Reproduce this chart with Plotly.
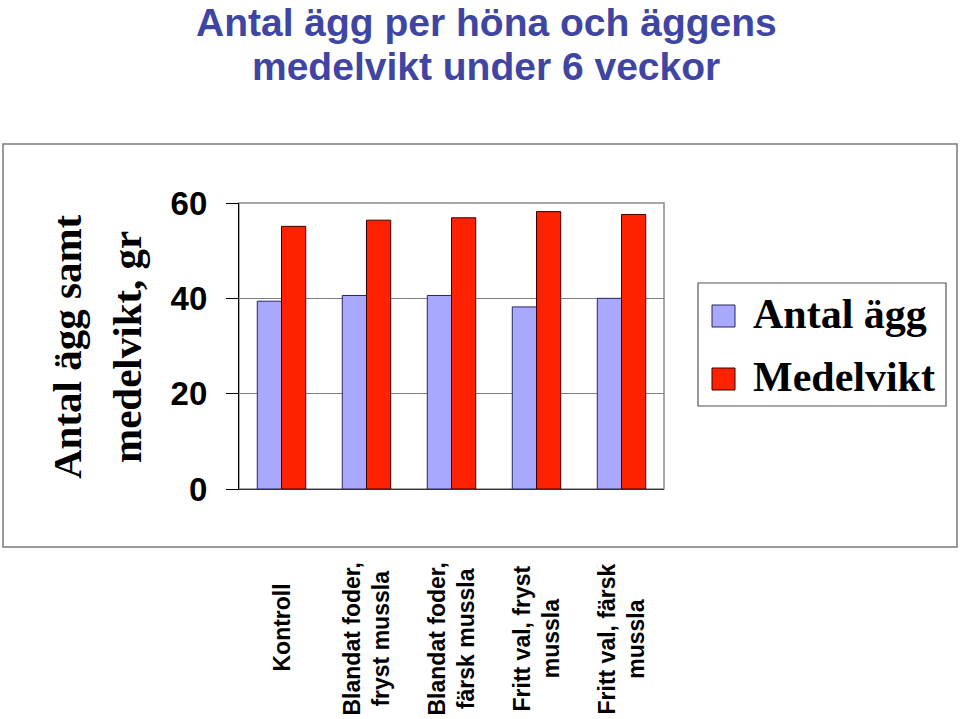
import plotly.graph_objects as go

categories = ["Kontroll", "Blandat foder,<br>fryst mussla", "Blandat foder,<br>färsk mussla",
              "Fritt val, fryst<br>mussla", "Fritt val, färsk<br>mussla"]
antal_agg = [39.4, 40.6, 40.6, 38.2, 40.0]
medelvikt = [55.1, 56.4, 56.9, 58.2, 57.6]
series_names = ["Antal ägg", "Medelvikt"]
title_lines = ["Antal ägg per höna och äggens", "medelvikt under 6 veckor"]
ytitle_lines = ["Antal ägg samt", "medelvikt, gr"]
y_ticks = [0, 20, 40, 60]

BLUE = "#A8A8FF"
RED = "#FF2200"
SANS = "Liberation Sans, Arial, sans-serif"
SERIF = "Liberation Serif, Times New Roman, serif"

# plot area in screenshot pixels (body margin removed via post_script)
W, H = 960, 719
L, R, T, B = 239, 664, 203, 489


def px(x):
    return (x - L) / (R - L)


def py(y):
    return (B - y) / (B - T)


fig = go.Figure()
fig.add_trace(go.Bar(x=categories, y=antal_agg, name=series_names[0],
                     marker=dict(color=BLUE, line=dict(color="#262660", width=1)),
                     showlegend=False))
fig.add_trace(go.Bar(x=categories, y=medelvikt, name=series_names[1],
                     marker=dict(color=RED, line=dict(color="#3a0000", width=1)),
                     showlegend=False))

shapes = [
    # outer chart border
    dict(type="rect", xref="paper", yref="paper", x0=px(3), x1=px(957), y0=py(547), y1=py(144),
         line=dict(color="#7a7a7a", width=1.5), layer="below"),
    # plot area border
    dict(type="rect", xref="paper", yref="paper", x0=0, x1=1, y0=0, y1=1,
         line=dict(color="#8a8a8a", width=1.5), layer="below"),
    # legend box
    dict(type="rect", xref="paper", yref="paper", x0=px(698), x1=px(946), y0=py(406), y1=py(283),
         line=dict(color="#555555", width=1.2), fillcolor="white"),
    # legend swatches
    dict(type="rect", xref="paper", yref="paper", x0=px(712), x1=px(735), y0=py(327), y1=py(305),
         line=dict(color="#262660", width=1), fillcolor=BLUE),
    dict(type="rect", xref="paper", yref="paper", x0=px(712), x1=px(735), y0=py(390), y1=py(368),
         line=dict(color="#3a0000", width=1), fillcolor=RED),
]

annotations = []
# Title
annotations.append(dict(text=title_lines[0], xref="paper", yref="paper", x=px(486), y=py(0),
                        xanchor="center", yanchor="top", showarrow=False, borderpad=0,
                        font=dict(family=SANS, size=39, color="#3F45A3", weight="bold")))
annotations.append(dict(text=title_lines[1], xref="paper", yref="paper", x=px(486), y=py(66),
                        xanchor="center", yanchor="middle", showarrow=False,
                        font=dict(family=SANS, size=39, color="#3F45A3", weight="bold")))
# Y axis title
for txt, xc in zip(ytitle_lines, [67, 127]):
    annotations.append(dict(text=txt, xref="paper", yref="paper", x=px(xc), y=py(347),
                            xanchor="center", yanchor="middle", textangle=-90, showarrow=False,
                            font=dict(family=SERIF, size=41, color="black", weight="bold")))
# Category labels
for c in categories:
    yc = 639 if "<br>" in c else 628
    annotations.append(dict(text=c, xref="x", yref="paper", x=c, y=py(yc),
                            xanchor="center", yanchor="middle", textangle=-90, showarrow=False,
                            align="center",
                            font=dict(family=SANS, size=23, color="black", weight="bold")))
# Legend text
for txt, yc in zip(series_names, [314, 377]):
    annotations.append(dict(text=txt, xref="paper", yref="paper", x=px(751), y=py(yc),
                            xanchor="left", yanchor="middle", showarrow=False,
                            font=dict(family=SERIF, size=42, color="black", weight="bold")))

fig.update_layout(
    width=W, height=H,
    margin=dict(l=L, r=W - R, t=T, b=H - B, pad=0),
    paper_bgcolor="white", plot_bgcolor="white",
    barmode="group", bargap=0.43, bargroupgap=0,
    showlegend=False,
    shapes=shapes, annotations=annotations,
    xaxis=dict(showticklabels=False, ticks="", showgrid=False, zeroline=False,
               showline=True, linecolor="#333333", linewidth=1.2),
    yaxis=dict(range=[0, 60], tickvals=y_ticks, ticks="outside", ticklen=12,
               tickcolor="black", tickwidth=1, showline=True, linecolor="black", linewidth=1.2,
               showgrid=True, gridcolor="#7f7f7f", gridwidth=1.2, zeroline=False,
               ticklabelstandoff=12,
               tickfont=dict(family=SANS, size=33, color="black", weight="bold")),
)

fig.write_html("out.html", config={"displayModeBar": False},
               post_script="document.body.style.margin='0';document.body.style.overflow='hidden';")
